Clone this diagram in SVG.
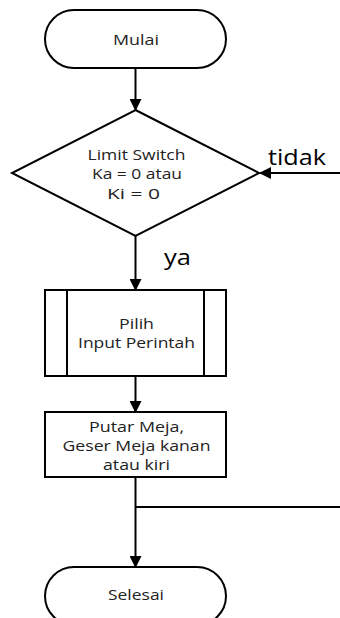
<svg xmlns="http://www.w3.org/2000/svg" width="340" height="618" viewBox="0 0 340 618">
<style>
.s{fill:#fff;stroke:#000;stroke-width:2}
.t{font-family:"Open Sans","DejaVu Sans",sans-serif;font-size:14.5px;fill:#222;text-anchor:middle}
.l{font-family:"Open Sans","DejaVu Sans",sans-serif;font-size:21px;fill:#000}
.c{fill:none;stroke:#000;stroke-width:2}
</style>
<defs>
<marker id="a" markerWidth="12" markerHeight="12" refX="11" refY="6" orient="auto" markerUnits="userSpaceOnUse">
<path d="M0,0 L12,6 L0,12 Z" fill="#000"/>
</marker>
</defs>
<g id="connectors">
<line class="c" x1="135.5" y1="68" x2="135.5" y2="110" marker-end="url(#a)"/>
<line class="c" x1="340" y1="173" x2="260" y2="173" marker-end="url(#a)"/>
<line class="c" x1="135.5" y1="236" x2="135.5" y2="290" marker-end="url(#a)"/>
<line class="c" x1="135.5" y1="376" x2="135.5" y2="412" marker-end="url(#a)"/>
<line class="c" x1="135.5" y1="477" x2="135.5" y2="567" marker-end="url(#a)"/>
<line class="c" x1="135.5" y1="507" x2="340" y2="507"/>
<text class="l" x="268" y="165" textLength="58" lengthAdjust="spacingAndGlyphs">tidak</text>
<text class="l" x="164" y="265" textLength="27" lengthAdjust="spacingAndGlyphs">ya</text>
</g>
<g id="mulai">
<rect class="s" x="45" y="10" width="181" height="58" rx="29" ry="29"/>
<text class="t" x="136" y="44.5" textLength="46" lengthAdjust="spacingAndGlyphs">Mulai</text>
</g>
<g id="limit-switch">
<polygon class="s" points="135.5,110 259,173 135.5,236 12,173"/>
<text class="t" x="136.5" y="160" textLength="98" lengthAdjust="spacingAndGlyphs">Limit Switch</text>
<text class="t" x="137" y="179" textLength="90" lengthAdjust="spacingAndGlyphs">Ka = 0 atau</text>
<text class="t" x="133.5" y="199" textLength="53" lengthAdjust="spacingAndGlyphs">Ki = 0</text>
</g>
<g id="pilih-input">
<rect class="s" x="45" y="290" width="181" height="86"/>
<line class="c" x1="67" y1="290" x2="67" y2="376"/>
<line class="c" x1="204" y1="290" x2="204" y2="376"/>
<text class="t" x="136.5" y="329" textLength="35" lengthAdjust="spacingAndGlyphs">Pilih</text>
<text class="t" x="136.5" y="348" textLength="117" lengthAdjust="spacingAndGlyphs">Input Perintah</text>
</g>
<g id="putar-meja">
<rect class="s" x="45" y="412" width="181" height="65"/>
<text class="t" x="136.5" y="432" textLength="95" lengthAdjust="spacingAndGlyphs">Putar Meja,</text>
<text class="t" x="136.5" y="451" textLength="148" lengthAdjust="spacingAndGlyphs">Geser Meja kanan</text>
<text class="t" x="136.5" y="470" textLength="67" lengthAdjust="spacingAndGlyphs">atau kiri</text>
</g>
<g id="selesai">
<rect class="s" x="45" y="567" width="181" height="58" rx="29" ry="29"/>
<text class="t" x="136" y="600" textLength="56" lengthAdjust="spacingAndGlyphs">Selesai</text>
</g>
</svg>
